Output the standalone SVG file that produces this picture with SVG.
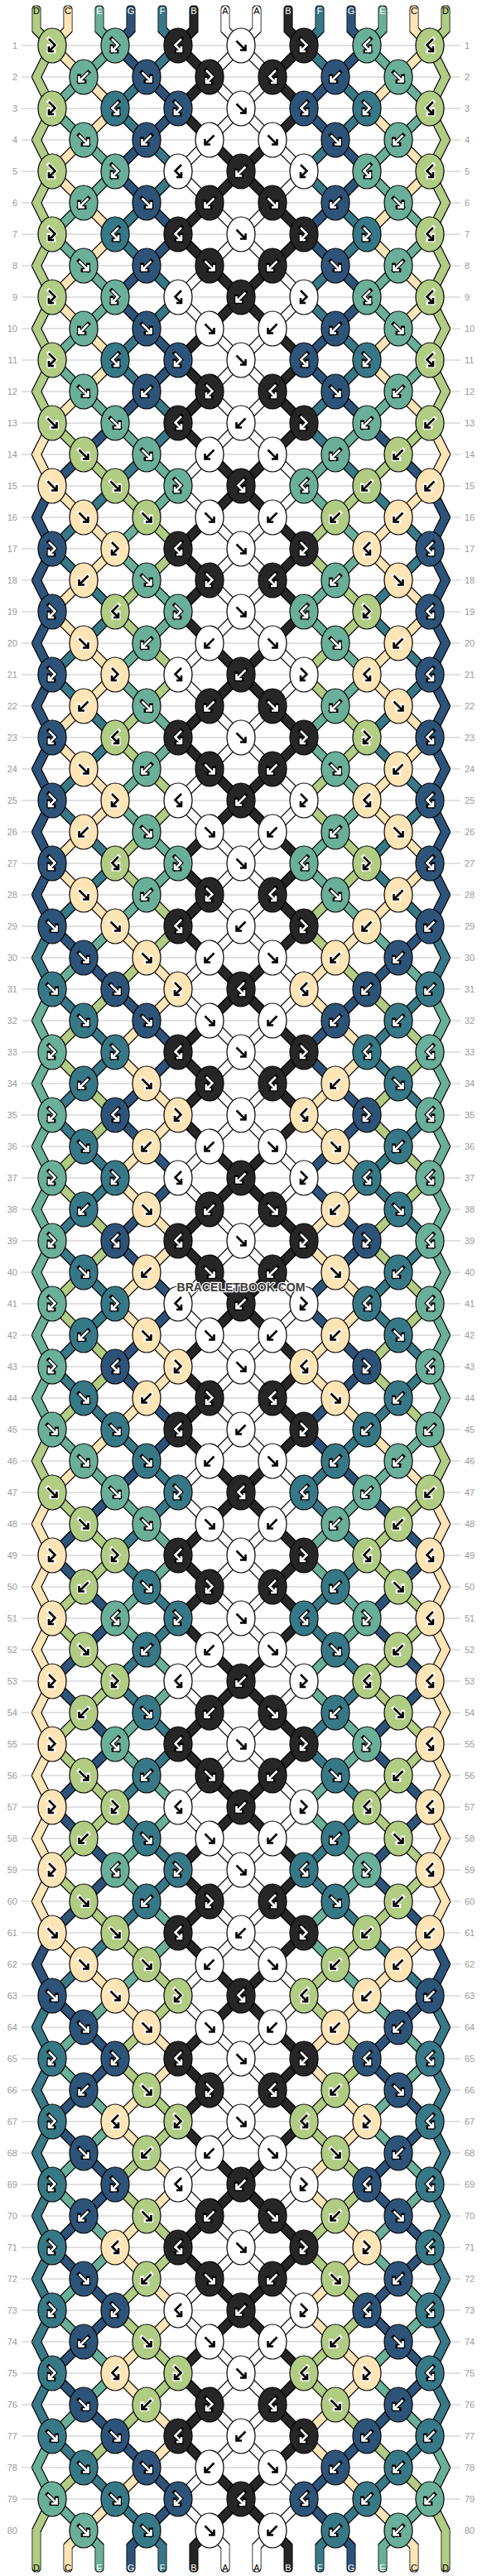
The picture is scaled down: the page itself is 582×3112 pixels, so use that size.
<svg xmlns="http://www.w3.org/2000/svg" width="582" height="3112" viewBox="0 0 582 3112">
<style>
.A{fill:#fff;stroke:#000;color:#fff}
.B{fill:#262626;stroke:#fff;color:#000}
.C{fill:#ffe4b5;stroke:#000;color:#fff}
.D{fill:#b1cc83;stroke:#000;color:#fff}
.E{fill:#6aaf9a;stroke:#fff;color:#000}
.F{fill:#377887;stroke:#fff;color:#000}
.G{fill:#2d5379;stroke:#fff;color:#000}
.lab{font-family:'Liberation Sans',Arial,sans-serif;font-size:11px;fill:#9a9a9a}
.let{font-family:'Liberation Sans',Arial,sans-serif;font-size:11px;text-anchor:middle}
</style>
<defs>
<filter id="ol" x="-3%" y="-1%" width="106%" height="102%"><feMorphology in="SourceAlpha" operator="dilate" radius="1" result="d"/><feFlood flood-color="#000"/><feComposite in2="d" operator="in"/><feMerge><feMergeNode/><feMergeNode in="SourceGraphic"/></feMerge></filter>
<g id="f"><ellipse rx="17" ry="21" stroke="#000" stroke-width="1.2"/><path d="M-5.5-5.5L5.5 5.5M-1 5.5H5.5V-1" fill="none" stroke="currentColor" stroke-width="4.8" stroke-linecap="square"/><path d="M-5.5-5.5L5.5 5.5M-1 5.5H5.5V-1" fill="none" stroke-width="2.6"/></g>
<g id="b"><ellipse rx="17" ry="21" stroke="#000" stroke-width="1.2"/><path d="M5.5-5.5L-5.5 5.5M1 5.5H-5.5V-1" fill="none" stroke="currentColor" stroke-width="4.8" stroke-linecap="square"/><path d="M5.5-5.5L-5.5 5.5M1 5.5H-5.5V-1" fill="none" stroke-width="2.6"/></g>
<g id="fb"><ellipse rx="17" ry="21" stroke="#000" stroke-width="1.2"/><path d="M-4-8L3.5-.5L-4 7M2 7H-4V1" fill="none" stroke="currentColor" stroke-width="4.8" stroke-linecap="square"/><path d="M-4-8L3.5-.5L-4 7M2 7H-4V1" fill="none" stroke-width="2.6"/></g>
<g id="bf"><ellipse rx="17" ry="21" stroke="#000" stroke-width="1.2"/><path d="M4-8L-3.5-.5L4 7M-2 7H4V1" fill="none" stroke="currentColor" stroke-width="4.8" stroke-linecap="square"/><path d="M4-8L-3.5-.5L4 7M-2 7H4V1" fill="none" stroke-width="2.6"/></g>
</defs>
<rect width="582" height="3112" fill="#fff"/>
<path id="rowlines" fill="none" stroke="#c4c4c4" stroke-width="1.2" d="M26 55H556m-530 38H556m-530 38H556m-530 38H556m-530 38H556m-530 38H556m-530 38H556m-530 38H556m-530 38H556m-530 38H556m-530 38H556m-530 38H556m-530 38H556m-530 38H556m-530 38H556m-530 38H556m-530 38H556m-530 38H556m-530 38H556m-530 38H556m-530 38H556m-530 38H556m-530 38H556m-530 38H556m-530 38H556m-530 38H556m-530 38H556m-530 38H556m-530 38H556m-530 38H556m-530 38H556m-530 38H556m-530 38H556m-530 38H556m-530 38H556m-530 38H556m-530 38H556m-530 38H556m-530 38H556m-530 38H556m-530 38H556m-530 38H556m-530 38H556m-530 38H556m-530 38H556m-530 38H556m-530 38H556m-530 38H556m-530 38H556m-530 38H556m-530 38H556m-530 38H556m-530 38H556m-530 38H556m-530 38H556m-530 38H556m-530 38H556m-530 38H556m-530 38H556m-530 38H556m-530 38H556m-530 38H556m-530 38H556m-530 38H556m-530 38H556m-530 38H556m-530 38H556m-530 38H556m-530 38H556m-530 38H556m-530 38H556m-530 38H556m-530 38H556m-530 38H556m-530 38H556m-530 38H556m-530 38H556m-530 38H556m-530 38H556"/>
<g id="row-labels" class="lab">
<g text-anchor="end">
<text x="21" y="59">1</text><text x="21" y="97">2</text><text x="21" y="135">3</text><text x="21" y="173">4</text><text x="21" y="211">5</text><text x="21" y="249">6</text><text x="21" y="287">7</text><text x="21" y="325">8</text><text x="21" y="363">9</text><text x="21" y="401">10</text><text x="21" y="439">11</text><text x="21" y="477">12</text><text x="21" y="515">13</text><text x="21" y="553">14</text><text x="21" y="591">15</text><text x="21" y="629">16</text><text x="21" y="667">17</text><text x="21" y="705">18</text><text x="21" y="743">19</text><text x="21" y="781">20</text><text x="21" y="819">21</text><text x="21" y="857">22</text><text x="21" y="895">23</text><text x="21" y="933">24</text><text x="21" y="971">25</text><text x="21" y="1009">26</text><text x="21" y="1047">27</text><text x="21" y="1085">28</text><text x="21" y="1123">29</text><text x="21" y="1161">30</text><text x="21" y="1199">31</text><text x="21" y="1237">32</text><text x="21" y="1275">33</text><text x="21" y="1313">34</text><text x="21" y="1351">35</text><text x="21" y="1389">36</text><text x="21" y="1427">37</text><text x="21" y="1465">38</text><text x="21" y="1503">39</text><text x="21" y="1541">40</text><text x="21" y="1579">41</text><text x="21" y="1617">42</text><text x="21" y="1655">43</text><text x="21" y="1693">44</text><text x="21" y="1731">45</text><text x="21" y="1769">46</text><text x="21" y="1807">47</text><text x="21" y="1845">48</text><text x="21" y="1883">49</text><text x="21" y="1921">50</text><text x="21" y="1959">51</text><text x="21" y="1997">52</text><text x="21" y="2035">53</text><text x="21" y="2073">54</text><text x="21" y="2111">55</text><text x="21" y="2149">56</text><text x="21" y="2187">57</text><text x="21" y="2225">58</text><text x="21" y="2263">59</text><text x="21" y="2301">60</text><text x="21" y="2339">61</text><text x="21" y="2377">62</text><text x="21" y="2415">63</text><text x="21" y="2453">64</text><text x="21" y="2491">65</text><text x="21" y="2529">66</text><text x="21" y="2567">67</text><text x="21" y="2605">68</text><text x="21" y="2643">69</text><text x="21" y="2681">70</text><text x="21" y="2719">71</text><text x="21" y="2757">72</text><text x="21" y="2795">73</text><text x="21" y="2833">74</text><text x="21" y="2871">75</text><text x="21" y="2909">76</text><text x="21" y="2947">77</text><text x="21" y="2985">78</text><text x="21" y="3023">79</text><text x="21" y="3061">80</text>
</g>
<g text-anchor="start">
<text x="561" y="59">1</text><text x="561" y="97">2</text><text x="561" y="135">3</text><text x="561" y="173">4</text><text x="561" y="211">5</text><text x="561" y="249">6</text><text x="561" y="287">7</text><text x="561" y="325">8</text><text x="561" y="363">9</text><text x="561" y="401">10</text><text x="561" y="439">11</text><text x="561" y="477">12</text><text x="561" y="515">13</text><text x="561" y="553">14</text><text x="561" y="591">15</text><text x="561" y="629">16</text><text x="561" y="667">17</text><text x="561" y="705">18</text><text x="561" y="743">19</text><text x="561" y="781">20</text><text x="561" y="819">21</text><text x="561" y="857">22</text><text x="561" y="895">23</text><text x="561" y="933">24</text><text x="561" y="971">25</text><text x="561" y="1009">26</text><text x="561" y="1047">27</text><text x="561" y="1085">28</text><text x="561" y="1123">29</text><text x="561" y="1161">30</text><text x="561" y="1199">31</text><text x="561" y="1237">32</text><text x="561" y="1275">33</text><text x="561" y="1313">34</text><text x="561" y="1351">35</text><text x="561" y="1389">36</text><text x="561" y="1427">37</text><text x="561" y="1465">38</text><text x="561" y="1503">39</text><text x="561" y="1541">40</text><text x="561" y="1579">41</text><text x="561" y="1617">42</text><text x="561" y="1655">43</text><text x="561" y="1693">44</text><text x="561" y="1731">45</text><text x="561" y="1769">46</text><text x="561" y="1807">47</text><text x="561" y="1845">48</text><text x="561" y="1883">49</text><text x="561" y="1921">50</text><text x="561" y="1959">51</text><text x="561" y="1997">52</text><text x="561" y="2035">53</text><text x="561" y="2073">54</text><text x="561" y="2111">55</text><text x="561" y="2149">56</text><text x="561" y="2187">57</text><text x="561" y="2225">58</text><text x="561" y="2263">59</text><text x="561" y="2301">60</text><text x="561" y="2339">61</text><text x="561" y="2377">62</text><text x="561" y="2415">63</text><text x="561" y="2453">64</text><text x="561" y="2491">65</text><text x="561" y="2529">66</text><text x="561" y="2567">67</text><text x="561" y="2605">68</text><text x="561" y="2643">69</text><text x="561" y="2681">70</text><text x="561" y="2719">71</text><text x="561" y="2757">72</text><text x="561" y="2795">73</text><text x="561" y="2833">74</text><text x="561" y="2871">75</text><text x="561" y="2909">76</text><text x="561" y="2947">77</text><text x="561" y="2985">78</text><text x="561" y="3023">79</text><text x="561" y="3061">80</text>
</g>
</g>
<g id="connectors" filter="url(#ol)">
<g id="half" fill="none" stroke-width="9" stroke-linecap="round" stroke-linejoin="miter">
<path stroke="#ffffff" d="M272 12V36L291 55l-38 38 38 38-38 38-38 38 38 38 38 38-38 38-38 38 38 38 38 38-38 38 38 38-38 38-38 38 38 38 38 38-38 38 38 38-38 38-38 38 38 38 38 38-38 38-38 38 38 38 38 38-38 38 38 38-38 38-38 38 38 38 38 38-38 38 38 38-38 38-38 38 38 38 38 38-38 38-38 38 38 38 38 38-38 38 38 38-38 38-38 38 38 38 38 38-38 38 38 38-38 38-38 38 38 38 38 38-38 38-38 38 38 38 38 38-38 38 38 38-38 38-38 38 38 38 38 38-38 38 38 38-38 38-38 38 38 38 38 38-38 38-38 38 38 38 38 38-38 38 38 38-38 38-38 38 38 38l19 19V3102"/>
<path stroke="#262626" d="M234 12V36L215 55l38 38-38 38 38 38 38 38-38 38-38 38 38 38 38 38-38 38-38 38 38 38-38 38 38 38 38 38-38 38-38 38 38 38-38 38 38 38 38 38-38 38-38 38 38 38 38 38-38 38-38 38 38 38-38 38 38 38 38 38-38 38-38 38 38 38-38 38 38 38 38 38-38 38-38 38 38 38 38 38-38 38-38 38 38 38-38 38 38 38 38 38-38 38-38 38 38 38-38 38 38 38 38 38-38 38-38 38 38 38 38 38-38 38-38 38 38 38-38 38 38 38 38 38-38 38-38 38 38 38-38 38 38 38 38 38-38 38-38 38 38 38 38 38-38 38-38 38 38 38-38 38 38 38 38 38-38 38l-19 19V3102"/>
<path stroke="#ffe4b5" d="M63 511l-19 38 19 38M63 1803l-19 38 19 38-19 38 19 38-19 38 19 38-19 38 19 38-19 38 19 38-19 38 19 38-19 38 19 38M82 12V36L63 55l38 38 38 38-38 38-38 38 38 38 38 38-38 38-38 38 38 38 38 38-38 38-38 38M63 587l38 38 38 38-38 38-38 38 38 38 38 38-38 38-38 38 38 38 38 38-38 38-38 38 38 38 38 38 38 38 38 38-38 38-38 38 38 38 38 38-38 38-38 38 38 38 38 38-38 38-38 38 38 38 38 38-38 38-38 38-38 38-38 38M63 2335l38 38 38 38 38 38 38 38-38 38-38 38 38 38 38 38-38 38-38 38 38 38 38 38-38 38-38 38 38 38 38 38-38 38-38 38-38 38l-19 19V3102"/>
<path stroke="#b1cc83" d="M44 12V36L63 55l-19 38 19 38-19 38 19 38-19 38 19 38-19 38 19 38-19 38 19 38-19 38 19 38M63 1727l-19 38 19 38M63 3019l-19 38V3102M63 511l38 38 38 38 38 38 38 38-38 38-38 38 38 38 38 38-38 38-38 38 38 38 38 38-38 38-38 38 38 38 38 38-38 38-38 38-38 38-38 38 38 38 38 38-38 38-38 38 38 38 38 38-38 38-38 38 38 38 38 38-38 38-38 38M63 1803l38 38 38 38-38 38-38 38 38 38 38 38-38 38-38 38 38 38 38 38-38 38-38 38 38 38 38 38 38 38 38 38-38 38-38 38 38 38 38 38-38 38-38 38 38 38 38 38-38 38-38 38 38 38 38 38-38 38-38 38-38 38-38 38"/>
<path stroke="#6aaf9a" d="M63 1195l-19 38 19 38-19 38 19 38-19 38 19 38-19 38 19 38-19 38 19 38-19 38 19 38-19 38 19 38M63 2943l-19 38 19 38M120 12V36L139 55l-38 38-38 38 38 38 38 38-38 38-38 38 38 38 38 38-38 38-38 38 38 38 38 38 38 38 38 38-38 38-38 38 38 38 38 38-38 38-38 38 38 38 38 38-38 38-38 38 38 38 38 38-38 38-38 38-38 38-38 38M63 1727l38 38 38 38 38 38 38 38-38 38-38 38 38 38 38 38-38 38-38 38 38 38 38 38-38 38-38 38 38 38 38 38-38 38-38 38-38 38-38 38 38 38 38 38-38 38-38 38 38 38 38 38-38 38-38 38 38 38 38 38-38 38-38 38M63 3019l38 38 19 19V3102"/>
<path stroke="#377887" d="M63 1119l-19 38 19 38M63 2411l-19 38 19 38-19 38 19 38-19 38 19 38-19 38 19 38-19 38 19 38-19 38 19 38-19 38 19 38M196 12V36L215 55l-38 38-38 38 38 38 38 38-38 38-38 38 38 38 38 38-38 38-38 38 38 38 38 38-38 38-38 38-38 38-38 38 38 38 38 38-38 38-38 38 38 38 38 38-38 38-38 38 38 38 38 38-38 38-38 38M63 1195l38 38 38 38-38 38-38 38 38 38 38 38-38 38-38 38 38 38 38 38-38 38-38 38 38 38 38 38 38 38 38 38-38 38-38 38 38 38 38 38-38 38-38 38 38 38 38 38-38 38-38 38 38 38 38 38-38 38-38 38-38 38-38 38M63 2943l38 38 38 38 38 38 19 19V3102"/>
<path stroke="#2d5379" d="M63 587l-19 38 19 38-19 38 19 38-19 38 19 38-19 38 19 38-19 38 19 38-19 38 19 38-19 38 19 38M63 2335l-19 38 19 38M158 12V36L139 55l38 38 38 38-38 38-38 38 38 38 38 38-38 38-38 38 38 38 38 38-38 38-38 38-38 38-38 38M63 1119l38 38 38 38 38 38 38 38-38 38-38 38 38 38 38 38-38 38-38 38 38 38 38 38-38 38-38 38 38 38 38 38-38 38-38 38-38 38-38 38 38 38 38 38-38 38-38 38 38 38 38 38-38 38-38 38 38 38 38 38-38 38-38 38M63 2411l38 38 38 38-38 38-38 38 38 38 38 38-38 38-38 38 38 38 38 38-38 38-38 38 38 38 38 38 38 38 38 38-38 38l-19 19V3102"/>
</g>
<use href="#half" transform="matrix(-1 0 0 1 582 0)"/>
</g>
<g id="string-letters" class="let">
<text x="44" y="17" fill="#000">D</text><text x="82" y="17" fill="#000">C</text><text x="120" y="17" fill="#fff">E</text><text x="158" y="17" fill="#fff">G</text><text x="196" y="17" fill="#fff">F</text><text x="234" y="17" fill="#fff">B</text><text x="272" y="17" fill="#000">A</text><text x="310" y="17" fill="#000">A</text><text x="348" y="17" fill="#fff">B</text><text x="386" y="17" fill="#fff">F</text><text x="424" y="17" fill="#fff">G</text><text x="462" y="17" fill="#fff">E</text><text x="500" y="17" fill="#000">C</text><text x="538" y="17" fill="#000">D</text>
<text x="44" y="3106" fill="#000">D</text><text x="82" y="3106" fill="#000">C</text><text x="120" y="3106" fill="#fff">E</text><text x="158" y="3106" fill="#fff">G</text><text x="196" y="3106" fill="#fff">F</text><text x="234" y="3106" fill="#fff">B</text><text x="272" y="3106" fill="#000">A</text><text x="310" y="3106" fill="#000">A</text><text x="348" y="3106" fill="#fff">B</text><text x="386" y="3106" fill="#fff">F</text><text x="424" y="3106" fill="#fff">G</text><text x="462" y="3106" fill="#fff">E</text><text x="500" y="3106" fill="#000">C</text><text x="538" y="3106" fill="#000">D</text>
</g>
<g id="knots">
<g id="row1" transform="translate(0 55)"><use id="k1_1" href="#fb" x="63" class="D"/><use id="k1_2" href="#fb" x="139" class="E"/><use id="k1_3" href="#bf" x="215" class="B"/><use id="k1_4" href="#f" x="291" class="A"/><use id="k1_5" href="#fb" x="367" class="B"/><use id="k1_6" href="#bf" x="443" class="E"/><use id="k1_7" href="#bf" x="519" class="D"/></g>
<g id="row2" transform="translate(0 93)"><use id="k2_1" href="#b" x="101" class="E"/><use id="k2_2" href="#f" x="177" class="G"/><use id="k2_3" href="#fb" x="253" class="B"/><use id="k2_4" href="#bf" x="329" class="B"/><use id="k2_5" href="#b" x="405" class="G"/><use id="k2_6" href="#f" x="481" class="E"/></g>
<g id="row3" transform="translate(0 131)"><use id="k3_1" href="#fb" x="63" class="D"/><use id="k3_2" href="#bf" x="139" class="F"/><use id="k3_3" href="#fb" x="215" class="G"/><use id="k3_4" href="#f" x="291" class="A"/><use id="k3_5" href="#bf" x="367" class="G"/><use id="k3_6" href="#fb" x="443" class="F"/><use id="k3_7" href="#bf" x="519" class="D"/></g>
<g id="row4" transform="translate(0 169)"><use id="k4_1" href="#f" x="101" class="E"/><use id="k4_2" href="#b" x="177" class="G"/><use id="k4_3" href="#b" x="253" class="A"/><use id="k4_4" href="#f" x="329" class="A"/><use id="k4_5" href="#f" x="405" class="G"/><use id="k4_6" href="#b" x="481" class="E"/></g>
<g id="row5" transform="translate(0 207)"><use id="k5_1" href="#fb" x="63" class="D"/><use id="k5_2" href="#fb" x="139" class="E"/><use id="k5_3" href="#bf" x="215" class="A"/><use id="k5_4" href="#b" x="291" class="B"/><use id="k5_5" href="#fb" x="367" class="A"/><use id="k5_6" href="#bf" x="443" class="E"/><use id="k5_7" href="#bf" x="519" class="D"/></g>
<g id="row6" transform="translate(0 245)"><use id="k6_1" href="#b" x="101" class="E"/><use id="k6_2" href="#f" x="177" class="G"/><use id="k6_3" href="#b" x="253" class="B"/><use id="k6_4" href="#f" x="329" class="B"/><use id="k6_5" href="#b" x="405" class="G"/><use id="k6_6" href="#f" x="481" class="E"/></g>
<g id="row7" transform="translate(0 283)"><use id="k7_1" href="#fb" x="63" class="D"/><use id="k7_2" href="#bf" x="139" class="F"/><use id="k7_3" href="#bf" x="215" class="B"/><use id="k7_4" href="#f" x="291" class="A"/><use id="k7_5" href="#fb" x="367" class="B"/><use id="k7_6" href="#fb" x="443" class="F"/><use id="k7_7" href="#bf" x="519" class="D"/></g>
<g id="row8" transform="translate(0 321)"><use id="k8_1" href="#f" x="101" class="E"/><use id="k8_2" href="#b" x="177" class="G"/><use id="k8_3" href="#f" x="253" class="B"/><use id="k8_4" href="#b" x="329" class="B"/><use id="k8_5" href="#f" x="405" class="G"/><use id="k8_6" href="#b" x="481" class="E"/></g>
<g id="row9" transform="translate(0 359)"><use id="k9_1" href="#fb" x="63" class="D"/><use id="k9_2" href="#fb" x="139" class="E"/><use id="k9_3" href="#bf" x="215" class="A"/><use id="k9_4" href="#b" x="291" class="B"/><use id="k9_5" href="#fb" x="367" class="A"/><use id="k9_6" href="#bf" x="443" class="E"/><use id="k9_7" href="#bf" x="519" class="D"/></g>
<g id="row10" transform="translate(0 397)"><use id="k10_1" href="#b" x="101" class="E"/><use id="k10_2" href="#f" x="177" class="G"/><use id="k10_3" href="#f" x="253" class="A"/><use id="k10_4" href="#b" x="329" class="A"/><use id="k10_5" href="#b" x="405" class="G"/><use id="k10_6" href="#f" x="481" class="E"/></g>
<g id="row11" transform="translate(0 435)"><use id="k11_1" href="#fb" x="63" class="D"/><use id="k11_2" href="#bf" x="139" class="F"/><use id="k11_3" href="#fb" x="215" class="G"/><use id="k11_4" href="#f" x="291" class="A"/><use id="k11_5" href="#bf" x="367" class="G"/><use id="k11_6" href="#fb" x="443" class="F"/><use id="k11_7" href="#bf" x="519" class="D"/></g>
<g id="row12" transform="translate(0 473)"><use id="k12_1" href="#f" x="101" class="E"/><use id="k12_2" href="#b" x="177" class="G"/><use id="k12_3" href="#fb" x="253" class="B"/><use id="k12_4" href="#bf" x="329" class="B"/><use id="k12_5" href="#f" x="405" class="G"/><use id="k12_6" href="#b" x="481" class="E"/></g>
<g id="row13" transform="translate(0 511)"><use id="k13_1" href="#f" x="63" class="D"/><use id="k13_2" href="#f" x="139" class="E"/><use id="k13_3" href="#bf" x="215" class="B"/><use id="k13_4" href="#b" x="291" class="A"/><use id="k13_5" href="#fb" x="367" class="B"/><use id="k13_6" href="#b" x="443" class="E"/><use id="k13_7" href="#b" x="519" class="D"/></g>
<g id="row14" transform="translate(0 549)"><use id="k14_1" href="#f" x="101" class="D"/><use id="k14_2" href="#f" x="177" class="E"/><use id="k14_3" href="#b" x="253" class="A"/><use id="k14_4" href="#f" x="329" class="A"/><use id="k14_5" href="#b" x="405" class="E"/><use id="k14_6" href="#b" x="481" class="D"/></g>
<g id="row15" transform="translate(0 587)"><use id="k15_1" href="#f" x="63" class="C"/><use id="k15_2" href="#f" x="139" class="D"/><use id="k15_3" href="#fb" x="215" class="E"/><use id="k15_4" href="#bf" x="291" class="B"/><use id="k15_5" href="#bf" x="367" class="E"/><use id="k15_6" href="#b" x="443" class="D"/><use id="k15_7" href="#b" x="519" class="C"/></g>
<g id="row16" transform="translate(0 625)"><use id="k16_1" href="#f" x="101" class="C"/><use id="k16_2" href="#f" x="177" class="D"/><use id="k16_3" href="#f" x="253" class="A"/><use id="k16_4" href="#b" x="329" class="A"/><use id="k16_5" href="#b" x="405" class="D"/><use id="k16_6" href="#b" x="481" class="C"/></g>
<g id="row17" transform="translate(0 663)"><use id="k17_1" href="#fb" x="63" class="G"/><use id="k17_2" href="#fb" x="139" class="C"/><use id="k17_3" href="#bf" x="215" class="B"/><use id="k17_4" href="#f" x="291" class="A"/><use id="k17_5" href="#fb" x="367" class="B"/><use id="k17_6" href="#bf" x="443" class="C"/><use id="k17_7" href="#bf" x="519" class="G"/></g>
<g id="row18" transform="translate(0 701)"><use id="k18_1" href="#b" x="101" class="C"/><use id="k18_2" href="#f" x="177" class="E"/><use id="k18_3" href="#fb" x="253" class="B"/><use id="k18_4" href="#bf" x="329" class="B"/><use id="k18_5" href="#b" x="405" class="E"/><use id="k18_6" href="#f" x="481" class="C"/></g>
<g id="row19" transform="translate(0 739)"><use id="k19_1" href="#fb" x="63" class="G"/><use id="k19_2" href="#bf" x="139" class="D"/><use id="k19_3" href="#fb" x="215" class="E"/><use id="k19_4" href="#f" x="291" class="A"/><use id="k19_5" href="#bf" x="367" class="E"/><use id="k19_6" href="#fb" x="443" class="D"/><use id="k19_7" href="#bf" x="519" class="G"/></g>
<g id="row20" transform="translate(0 777)"><use id="k20_1" href="#f" x="101" class="C"/><use id="k20_2" href="#b" x="177" class="E"/><use id="k20_3" href="#b" x="253" class="A"/><use id="k20_4" href="#f" x="329" class="A"/><use id="k20_5" href="#f" x="405" class="E"/><use id="k20_6" href="#b" x="481" class="C"/></g>
<g id="row21" transform="translate(0 815)"><use id="k21_1" href="#fb" x="63" class="G"/><use id="k21_2" href="#fb" x="139" class="C"/><use id="k21_3" href="#bf" x="215" class="A"/><use id="k21_4" href="#b" x="291" class="B"/><use id="k21_5" href="#fb" x="367" class="A"/><use id="k21_6" href="#bf" x="443" class="C"/><use id="k21_7" href="#bf" x="519" class="G"/></g>
<g id="row22" transform="translate(0 853)"><use id="k22_1" href="#b" x="101" class="C"/><use id="k22_2" href="#f" x="177" class="E"/><use id="k22_3" href="#b" x="253" class="B"/><use id="k22_4" href="#f" x="329" class="B"/><use id="k22_5" href="#b" x="405" class="E"/><use id="k22_6" href="#f" x="481" class="C"/></g>
<g id="row23" transform="translate(0 891)"><use id="k23_1" href="#fb" x="63" class="G"/><use id="k23_2" href="#bf" x="139" class="D"/><use id="k23_3" href="#bf" x="215" class="B"/><use id="k23_4" href="#f" x="291" class="A"/><use id="k23_5" href="#fb" x="367" class="B"/><use id="k23_6" href="#fb" x="443" class="D"/><use id="k23_7" href="#bf" x="519" class="G"/></g>
<g id="row24" transform="translate(0 929)"><use id="k24_1" href="#f" x="101" class="C"/><use id="k24_2" href="#b" x="177" class="E"/><use id="k24_3" href="#f" x="253" class="B"/><use id="k24_4" href="#b" x="329" class="B"/><use id="k24_5" href="#f" x="405" class="E"/><use id="k24_6" href="#b" x="481" class="C"/></g>
<g id="row25" transform="translate(0 967)"><use id="k25_1" href="#fb" x="63" class="G"/><use id="k25_2" href="#fb" x="139" class="C"/><use id="k25_3" href="#bf" x="215" class="A"/><use id="k25_4" href="#b" x="291" class="B"/><use id="k25_5" href="#fb" x="367" class="A"/><use id="k25_6" href="#bf" x="443" class="C"/><use id="k25_7" href="#bf" x="519" class="G"/></g>
<g id="row26" transform="translate(0 1005)"><use id="k26_1" href="#b" x="101" class="C"/><use id="k26_2" href="#f" x="177" class="E"/><use id="k26_3" href="#f" x="253" class="A"/><use id="k26_4" href="#b" x="329" class="A"/><use id="k26_5" href="#b" x="405" class="E"/><use id="k26_6" href="#f" x="481" class="C"/></g>
<g id="row27" transform="translate(0 1043)"><use id="k27_1" href="#fb" x="63" class="G"/><use id="k27_2" href="#bf" x="139" class="D"/><use id="k27_3" href="#fb" x="215" class="E"/><use id="k27_4" href="#f" x="291" class="A"/><use id="k27_5" href="#bf" x="367" class="E"/><use id="k27_6" href="#fb" x="443" class="D"/><use id="k27_7" href="#bf" x="519" class="G"/></g>
<g id="row28" transform="translate(0 1081)"><use id="k28_1" href="#f" x="101" class="C"/><use id="k28_2" href="#b" x="177" class="E"/><use id="k28_3" href="#fb" x="253" class="B"/><use id="k28_4" href="#bf" x="329" class="B"/><use id="k28_5" href="#f" x="405" class="E"/><use id="k28_6" href="#b" x="481" class="C"/></g>
<g id="row29" transform="translate(0 1119)"><use id="k29_1" href="#f" x="63" class="G"/><use id="k29_2" href="#f" x="139" class="C"/><use id="k29_3" href="#bf" x="215" class="B"/><use id="k29_4" href="#b" x="291" class="A"/><use id="k29_5" href="#fb" x="367" class="B"/><use id="k29_6" href="#b" x="443" class="C"/><use id="k29_7" href="#b" x="519" class="G"/></g>
<g id="row30" transform="translate(0 1157)"><use id="k30_1" href="#f" x="101" class="G"/><use id="k30_2" href="#f" x="177" class="C"/><use id="k30_3" href="#b" x="253" class="A"/><use id="k30_4" href="#f" x="329" class="A"/><use id="k30_5" href="#b" x="405" class="C"/><use id="k30_6" href="#b" x="481" class="G"/></g>
<g id="row31" transform="translate(0 1195)"><use id="k31_1" href="#f" x="63" class="F"/><use id="k31_2" href="#f" x="139" class="G"/><use id="k31_3" href="#fb" x="215" class="C"/><use id="k31_4" href="#bf" x="291" class="B"/><use id="k31_5" href="#bf" x="367" class="C"/><use id="k31_6" href="#b" x="443" class="G"/><use id="k31_7" href="#b" x="519" class="F"/></g>
<g id="row32" transform="translate(0 1233)"><use id="k32_1" href="#f" x="101" class="F"/><use id="k32_2" href="#f" x="177" class="G"/><use id="k32_3" href="#f" x="253" class="A"/><use id="k32_4" href="#b" x="329" class="A"/><use id="k32_5" href="#b" x="405" class="G"/><use id="k32_6" href="#b" x="481" class="F"/></g>
<g id="row33" transform="translate(0 1271)"><use id="k33_1" href="#fb" x="63" class="E"/><use id="k33_2" href="#fb" x="139" class="F"/><use id="k33_3" href="#bf" x="215" class="B"/><use id="k33_4" href="#f" x="291" class="A"/><use id="k33_5" href="#fb" x="367" class="B"/><use id="k33_6" href="#bf" x="443" class="F"/><use id="k33_7" href="#bf" x="519" class="E"/></g>
<g id="row34" transform="translate(0 1309)"><use id="k34_1" href="#b" x="101" class="F"/><use id="k34_2" href="#f" x="177" class="C"/><use id="k34_3" href="#fb" x="253" class="B"/><use id="k34_4" href="#bf" x="329" class="B"/><use id="k34_5" href="#b" x="405" class="C"/><use id="k34_6" href="#f" x="481" class="F"/></g>
<g id="row35" transform="translate(0 1347)"><use id="k35_1" href="#fb" x="63" class="E"/><use id="k35_2" href="#bf" x="139" class="G"/><use id="k35_3" href="#fb" x="215" class="C"/><use id="k35_4" href="#f" x="291" class="A"/><use id="k35_5" href="#bf" x="367" class="C"/><use id="k35_6" href="#fb" x="443" class="G"/><use id="k35_7" href="#bf" x="519" class="E"/></g>
<g id="row36" transform="translate(0 1385)"><use id="k36_1" href="#f" x="101" class="F"/><use id="k36_2" href="#b" x="177" class="C"/><use id="k36_3" href="#b" x="253" class="A"/><use id="k36_4" href="#f" x="329" class="A"/><use id="k36_5" href="#f" x="405" class="C"/><use id="k36_6" href="#b" x="481" class="F"/></g>
<g id="row37" transform="translate(0 1423)"><use id="k37_1" href="#fb" x="63" class="E"/><use id="k37_2" href="#fb" x="139" class="F"/><use id="k37_3" href="#bf" x="215" class="A"/><use id="k37_4" href="#b" x="291" class="B"/><use id="k37_5" href="#fb" x="367" class="A"/><use id="k37_6" href="#bf" x="443" class="F"/><use id="k37_7" href="#bf" x="519" class="E"/></g>
<g id="row38" transform="translate(0 1461)"><use id="k38_1" href="#b" x="101" class="F"/><use id="k38_2" href="#f" x="177" class="C"/><use id="k38_3" href="#b" x="253" class="B"/><use id="k38_4" href="#f" x="329" class="B"/><use id="k38_5" href="#b" x="405" class="C"/><use id="k38_6" href="#f" x="481" class="F"/></g>
<g id="row39" transform="translate(0 1499)"><use id="k39_1" href="#fb" x="63" class="E"/><use id="k39_2" href="#bf" x="139" class="G"/><use id="k39_3" href="#bf" x="215" class="B"/><use id="k39_4" href="#f" x="291" class="A"/><use id="k39_5" href="#fb" x="367" class="B"/><use id="k39_6" href="#fb" x="443" class="G"/><use id="k39_7" href="#bf" x="519" class="E"/></g>
<g id="row40" transform="translate(0 1537)"><use id="k40_1" href="#f" x="101" class="F"/><use id="k40_2" href="#b" x="177" class="C"/><use id="k40_3" href="#f" x="253" class="B"/><use id="k40_4" href="#b" x="329" class="B"/><use id="k40_5" href="#f" x="405" class="C"/><use id="k40_6" href="#b" x="481" class="F"/></g>
<g id="row41" transform="translate(0 1575)"><use id="k41_1" href="#fb" x="63" class="E"/><use id="k41_2" href="#fb" x="139" class="F"/><use id="k41_3" href="#bf" x="215" class="A"/><use id="k41_4" href="#b" x="291" class="B"/><use id="k41_5" href="#fb" x="367" class="A"/><use id="k41_6" href="#bf" x="443" class="F"/><use id="k41_7" href="#bf" x="519" class="E"/></g>
<g id="row42" transform="translate(0 1613)"><use id="k42_1" href="#b" x="101" class="F"/><use id="k42_2" href="#f" x="177" class="C"/><use id="k42_3" href="#f" x="253" class="A"/><use id="k42_4" href="#b" x="329" class="A"/><use id="k42_5" href="#b" x="405" class="C"/><use id="k42_6" href="#f" x="481" class="F"/></g>
<g id="row43" transform="translate(0 1651)"><use id="k43_1" href="#fb" x="63" class="E"/><use id="k43_2" href="#bf" x="139" class="G"/><use id="k43_3" href="#fb" x="215" class="C"/><use id="k43_4" href="#f" x="291" class="A"/><use id="k43_5" href="#bf" x="367" class="C"/><use id="k43_6" href="#fb" x="443" class="G"/><use id="k43_7" href="#bf" x="519" class="E"/></g>
<g id="row44" transform="translate(0 1689)"><use id="k44_1" href="#f" x="101" class="F"/><use id="k44_2" href="#b" x="177" class="C"/><use id="k44_3" href="#fb" x="253" class="B"/><use id="k44_4" href="#bf" x="329" class="B"/><use id="k44_5" href="#f" x="405" class="C"/><use id="k44_6" href="#b" x="481" class="F"/></g>
<g id="row45" transform="translate(0 1727)"><use id="k45_1" href="#f" x="63" class="E"/><use id="k45_2" href="#f" x="139" class="F"/><use id="k45_3" href="#bf" x="215" class="B"/><use id="k45_4" href="#b" x="291" class="A"/><use id="k45_5" href="#fb" x="367" class="B"/><use id="k45_6" href="#b" x="443" class="F"/><use id="k45_7" href="#b" x="519" class="E"/></g>
<g id="row46" transform="translate(0 1765)"><use id="k46_1" href="#f" x="101" class="E"/><use id="k46_2" href="#f" x="177" class="F"/><use id="k46_3" href="#b" x="253" class="A"/><use id="k46_4" href="#f" x="329" class="A"/><use id="k46_5" href="#b" x="405" class="F"/><use id="k46_6" href="#b" x="481" class="E"/></g>
<g id="row47" transform="translate(0 1803)"><use id="k47_1" href="#f" x="63" class="D"/><use id="k47_2" href="#f" x="139" class="E"/><use id="k47_3" href="#fb" x="215" class="F"/><use id="k47_4" href="#bf" x="291" class="B"/><use id="k47_5" href="#bf" x="367" class="F"/><use id="k47_6" href="#b" x="443" class="E"/><use id="k47_7" href="#b" x="519" class="D"/></g>
<g id="row48" transform="translate(0 1841)"><use id="k48_1" href="#f" x="101" class="D"/><use id="k48_2" href="#f" x="177" class="E"/><use id="k48_3" href="#f" x="253" class="A"/><use id="k48_4" href="#b" x="329" class="A"/><use id="k48_5" href="#b" x="405" class="E"/><use id="k48_6" href="#b" x="481" class="D"/></g>
<g id="row49" transform="translate(0 1879)"><use id="k49_1" href="#fb" x="63" class="C"/><use id="k49_2" href="#fb" x="139" class="D"/><use id="k49_3" href="#bf" x="215" class="B"/><use id="k49_4" href="#f" x="291" class="A"/><use id="k49_5" href="#fb" x="367" class="B"/><use id="k49_6" href="#bf" x="443" class="D"/><use id="k49_7" href="#bf" x="519" class="C"/></g>
<g id="row50" transform="translate(0 1917)"><use id="k50_1" href="#b" x="101" class="D"/><use id="k50_2" href="#f" x="177" class="F"/><use id="k50_3" href="#fb" x="253" class="B"/><use id="k50_4" href="#bf" x="329" class="B"/><use id="k50_5" href="#b" x="405" class="F"/><use id="k50_6" href="#f" x="481" class="D"/></g>
<g id="row51" transform="translate(0 1955)"><use id="k51_1" href="#fb" x="63" class="C"/><use id="k51_2" href="#bf" x="139" class="E"/><use id="k51_3" href="#fb" x="215" class="F"/><use id="k51_4" href="#f" x="291" class="A"/><use id="k51_5" href="#bf" x="367" class="F"/><use id="k51_6" href="#fb" x="443" class="E"/><use id="k51_7" href="#bf" x="519" class="C"/></g>
<g id="row52" transform="translate(0 1993)"><use id="k52_1" href="#f" x="101" class="D"/><use id="k52_2" href="#b" x="177" class="F"/><use id="k52_3" href="#b" x="253" class="A"/><use id="k52_4" href="#f" x="329" class="A"/><use id="k52_5" href="#f" x="405" class="F"/><use id="k52_6" href="#b" x="481" class="D"/></g>
<g id="row53" transform="translate(0 2031)"><use id="k53_1" href="#fb" x="63" class="C"/><use id="k53_2" href="#fb" x="139" class="D"/><use id="k53_3" href="#bf" x="215" class="A"/><use id="k53_4" href="#b" x="291" class="B"/><use id="k53_5" href="#fb" x="367" class="A"/><use id="k53_6" href="#bf" x="443" class="D"/><use id="k53_7" href="#bf" x="519" class="C"/></g>
<g id="row54" transform="translate(0 2069)"><use id="k54_1" href="#b" x="101" class="D"/><use id="k54_2" href="#f" x="177" class="F"/><use id="k54_3" href="#b" x="253" class="B"/><use id="k54_4" href="#f" x="329" class="B"/><use id="k54_5" href="#b" x="405" class="F"/><use id="k54_6" href="#f" x="481" class="D"/></g>
<g id="row55" transform="translate(0 2107)"><use id="k55_1" href="#fb" x="63" class="C"/><use id="k55_2" href="#bf" x="139" class="E"/><use id="k55_3" href="#bf" x="215" class="B"/><use id="k55_4" href="#f" x="291" class="A"/><use id="k55_5" href="#fb" x="367" class="B"/><use id="k55_6" href="#fb" x="443" class="E"/><use id="k55_7" href="#bf" x="519" class="C"/></g>
<g id="row56" transform="translate(0 2145)"><use id="k56_1" href="#f" x="101" class="D"/><use id="k56_2" href="#b" x="177" class="F"/><use id="k56_3" href="#f" x="253" class="B"/><use id="k56_4" href="#b" x="329" class="B"/><use id="k56_5" href="#f" x="405" class="F"/><use id="k56_6" href="#b" x="481" class="D"/></g>
<g id="row57" transform="translate(0 2183)"><use id="k57_1" href="#fb" x="63" class="C"/><use id="k57_2" href="#fb" x="139" class="D"/><use id="k57_3" href="#bf" x="215" class="A"/><use id="k57_4" href="#b" x="291" class="B"/><use id="k57_5" href="#fb" x="367" class="A"/><use id="k57_6" href="#bf" x="443" class="D"/><use id="k57_7" href="#bf" x="519" class="C"/></g>
<g id="row58" transform="translate(0 2221)"><use id="k58_1" href="#b" x="101" class="D"/><use id="k58_2" href="#f" x="177" class="F"/><use id="k58_3" href="#f" x="253" class="A"/><use id="k58_4" href="#b" x="329" class="A"/><use id="k58_5" href="#b" x="405" class="F"/><use id="k58_6" href="#f" x="481" class="D"/></g>
<g id="row59" transform="translate(0 2259)"><use id="k59_1" href="#fb" x="63" class="C"/><use id="k59_2" href="#bf" x="139" class="E"/><use id="k59_3" href="#fb" x="215" class="F"/><use id="k59_4" href="#f" x="291" class="A"/><use id="k59_5" href="#bf" x="367" class="F"/><use id="k59_6" href="#fb" x="443" class="E"/><use id="k59_7" href="#bf" x="519" class="C"/></g>
<g id="row60" transform="translate(0 2297)"><use id="k60_1" href="#f" x="101" class="D"/><use id="k60_2" href="#b" x="177" class="F"/><use id="k60_3" href="#fb" x="253" class="B"/><use id="k60_4" href="#bf" x="329" class="B"/><use id="k60_5" href="#f" x="405" class="F"/><use id="k60_6" href="#b" x="481" class="D"/></g>
<g id="row61" transform="translate(0 2335)"><use id="k61_1" href="#f" x="63" class="C"/><use id="k61_2" href="#f" x="139" class="D"/><use id="k61_3" href="#bf" x="215" class="B"/><use id="k61_4" href="#b" x="291" class="A"/><use id="k61_5" href="#fb" x="367" class="B"/><use id="k61_6" href="#b" x="443" class="D"/><use id="k61_7" href="#b" x="519" class="C"/></g>
<g id="row62" transform="translate(0 2373)"><use id="k62_1" href="#f" x="101" class="C"/><use id="k62_2" href="#f" x="177" class="D"/><use id="k62_3" href="#b" x="253" class="A"/><use id="k62_4" href="#f" x="329" class="A"/><use id="k62_5" href="#b" x="405" class="D"/><use id="k62_6" href="#b" x="481" class="C"/></g>
<g id="row63" transform="translate(0 2411)"><use id="k63_1" href="#f" x="63" class="G"/><use id="k63_2" href="#f" x="139" class="C"/><use id="k63_3" href="#fb" x="215" class="D"/><use id="k63_4" href="#bf" x="291" class="B"/><use id="k63_5" href="#bf" x="367" class="D"/><use id="k63_6" href="#b" x="443" class="C"/><use id="k63_7" href="#b" x="519" class="G"/></g>
<g id="row64" transform="translate(0 2449)"><use id="k64_1" href="#f" x="101" class="G"/><use id="k64_2" href="#f" x="177" class="C"/><use id="k64_3" href="#f" x="253" class="A"/><use id="k64_4" href="#b" x="329" class="A"/><use id="k64_5" href="#b" x="405" class="C"/><use id="k64_6" href="#b" x="481" class="G"/></g>
<g id="row65" transform="translate(0 2487)"><use id="k65_1" href="#fb" x="63" class="F"/><use id="k65_2" href="#fb" x="139" class="G"/><use id="k65_3" href="#bf" x="215" class="B"/><use id="k65_4" href="#f" x="291" class="A"/><use id="k65_5" href="#fb" x="367" class="B"/><use id="k65_6" href="#bf" x="443" class="G"/><use id="k65_7" href="#bf" x="519" class="F"/></g>
<g id="row66" transform="translate(0 2525)"><use id="k66_1" href="#b" x="101" class="G"/><use id="k66_2" href="#f" x="177" class="D"/><use id="k66_3" href="#fb" x="253" class="B"/><use id="k66_4" href="#bf" x="329" class="B"/><use id="k66_5" href="#b" x="405" class="D"/><use id="k66_6" href="#f" x="481" class="G"/></g>
<g id="row67" transform="translate(0 2563)"><use id="k67_1" href="#fb" x="63" class="F"/><use id="k67_2" href="#bf" x="139" class="C"/><use id="k67_3" href="#fb" x="215" class="D"/><use id="k67_4" href="#f" x="291" class="A"/><use id="k67_5" href="#bf" x="367" class="D"/><use id="k67_6" href="#fb" x="443" class="C"/><use id="k67_7" href="#bf" x="519" class="F"/></g>
<g id="row68" transform="translate(0 2601)"><use id="k68_1" href="#f" x="101" class="G"/><use id="k68_2" href="#b" x="177" class="D"/><use id="k68_3" href="#b" x="253" class="A"/><use id="k68_4" href="#f" x="329" class="A"/><use id="k68_5" href="#f" x="405" class="D"/><use id="k68_6" href="#b" x="481" class="G"/></g>
<g id="row69" transform="translate(0 2639)"><use id="k69_1" href="#fb" x="63" class="F"/><use id="k69_2" href="#fb" x="139" class="G"/><use id="k69_3" href="#bf" x="215" class="A"/><use id="k69_4" href="#b" x="291" class="B"/><use id="k69_5" href="#fb" x="367" class="A"/><use id="k69_6" href="#bf" x="443" class="G"/><use id="k69_7" href="#bf" x="519" class="F"/></g>
<g id="row70" transform="translate(0 2677)"><use id="k70_1" href="#b" x="101" class="G"/><use id="k70_2" href="#f" x="177" class="D"/><use id="k70_3" href="#b" x="253" class="B"/><use id="k70_4" href="#f" x="329" class="B"/><use id="k70_5" href="#b" x="405" class="D"/><use id="k70_6" href="#f" x="481" class="G"/></g>
<g id="row71" transform="translate(0 2715)"><use id="k71_1" href="#fb" x="63" class="F"/><use id="k71_2" href="#bf" x="139" class="C"/><use id="k71_3" href="#bf" x="215" class="B"/><use id="k71_4" href="#f" x="291" class="A"/><use id="k71_5" href="#fb" x="367" class="B"/><use id="k71_6" href="#fb" x="443" class="C"/><use id="k71_7" href="#bf" x="519" class="F"/></g>
<g id="row72" transform="translate(0 2753)"><use id="k72_1" href="#f" x="101" class="G"/><use id="k72_2" href="#b" x="177" class="D"/><use id="k72_3" href="#f" x="253" class="B"/><use id="k72_4" href="#b" x="329" class="B"/><use id="k72_5" href="#f" x="405" class="D"/><use id="k72_6" href="#b" x="481" class="G"/></g>
<g id="row73" transform="translate(0 2791)"><use id="k73_1" href="#fb" x="63" class="F"/><use id="k73_2" href="#fb" x="139" class="G"/><use id="k73_3" href="#bf" x="215" class="A"/><use id="k73_4" href="#b" x="291" class="B"/><use id="k73_5" href="#fb" x="367" class="A"/><use id="k73_6" href="#bf" x="443" class="G"/><use id="k73_7" href="#bf" x="519" class="F"/></g>
<g id="row74" transform="translate(0 2829)"><use id="k74_1" href="#b" x="101" class="G"/><use id="k74_2" href="#f" x="177" class="D"/><use id="k74_3" href="#f" x="253" class="A"/><use id="k74_4" href="#b" x="329" class="A"/><use id="k74_5" href="#b" x="405" class="D"/><use id="k74_6" href="#f" x="481" class="G"/></g>
<g id="row75" transform="translate(0 2867)"><use id="k75_1" href="#fb" x="63" class="F"/><use id="k75_2" href="#bf" x="139" class="C"/><use id="k75_3" href="#fb" x="215" class="D"/><use id="k75_4" href="#f" x="291" class="A"/><use id="k75_5" href="#bf" x="367" class="D"/><use id="k75_6" href="#fb" x="443" class="C"/><use id="k75_7" href="#bf" x="519" class="F"/></g>
<g id="row76" transform="translate(0 2905)"><use id="k76_1" href="#f" x="101" class="G"/><use id="k76_2" href="#b" x="177" class="D"/><use id="k76_3" href="#fb" x="253" class="B"/><use id="k76_4" href="#bf" x="329" class="B"/><use id="k76_5" href="#f" x="405" class="D"/><use id="k76_6" href="#b" x="481" class="G"/></g>
<g id="row77" transform="translate(0 2943)"><use id="k77_1" href="#f" x="63" class="F"/><use id="k77_2" href="#f" x="139" class="G"/><use id="k77_3" href="#bf" x="215" class="B"/><use id="k77_4" href="#b" x="291" class="A"/><use id="k77_5" href="#fb" x="367" class="B"/><use id="k77_6" href="#b" x="443" class="G"/><use id="k77_7" href="#b" x="519" class="F"/></g>
<g id="row78" transform="translate(0 2981)"><use id="k78_1" href="#f" x="101" class="F"/><use id="k78_2" href="#f" x="177" class="G"/><use id="k78_3" href="#b" x="253" class="A"/><use id="k78_4" href="#f" x="329" class="A"/><use id="k78_5" href="#b" x="405" class="G"/><use id="k78_6" href="#b" x="481" class="F"/></g>
<g id="row79" transform="translate(0 3019)"><use id="k79_1" href="#f" x="63" class="E"/><use id="k79_2" href="#f" x="139" class="F"/><use id="k79_3" href="#fb" x="215" class="G"/><use id="k79_4" href="#bf" x="291" class="B"/><use id="k79_5" href="#bf" x="367" class="G"/><use id="k79_6" href="#b" x="443" class="F"/><use id="k79_7" href="#b" x="519" class="E"/></g>
<g id="row80" transform="translate(0 3057)"><use id="k80_1" href="#f" x="101" class="E"/><use id="k80_2" href="#f" x="177" class="F"/><use id="k80_3" href="#f" x="253" class="A"/><use id="k80_4" href="#b" x="329" class="A"/><use id="k80_5" href="#b" x="405" class="F"/><use id="k80_6" href="#b" x="481" class="E"/></g>
</g>
<text id="watermark" x="291" y="1560" text-anchor="middle" font-family="'Liberation Sans',Arial,sans-serif" font-size="14" font-weight="bold" fill="#3a3a3a" stroke="#fff" stroke-width="2.5" paint-order="stroke" stroke-linejoin="round">BRACELETBOOK.COM</text>
</svg>
